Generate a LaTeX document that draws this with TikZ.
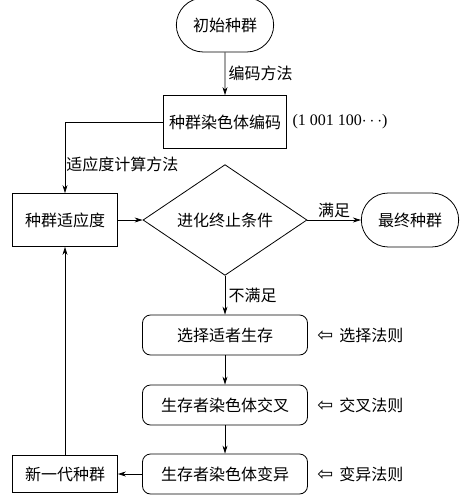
\documentclass[tikz,border=0pt]{standalone}
\usepackage{fontspec}
\setmainfont{Liberation Serif}
\newfontfamily\cjk{Noto Sans CJK SC}
\newfontfamily\symfont{DejaVu Sans}
\usetikzlibrary{shapes,arrows.meta,positioning}

\begin{document}
\begin{tikzpicture}[x=1pt,y=-1pt,font=\fontsize{16}{16}\selectfont\cjk,line width=0.8pt,>={Stealth[length=8pt,width=5pt]},
  term/.style={draw, rounded rectangle, minimum width=104pt, minimum height=54pt},
  plainbox/.style={draw, minimum width=105pt, minimum height=53pt},
  stepbox/.style={draw, rounded corners=8pt, minimum width=165pt, minimum height=40pt},
  cond/.style={draw, diamond, inner sep=0pt, minimum width=164pt, minimum height=86pt},
  rule/.style={inner sep=0pt}]
\useasboundingbox (0,0) rectangle (474,495);
\node[term] (start) at (225,25) {初始种群};
\node[plainbox, minimum width=123pt, inner sep=2pt] (encode) at (225,122) {种群染色体编码};
\node[right=2pt of encode, font=\fontsize{16}{16}\selectfont\rmfamily] (code) {(1 001 100$\cdots$)};
\node[plainbox] (fitness) at (65,220) {种群适应度};
\node[cond] (check) at (225,220) {进化终止条件};
\node[term] (final) at (410,220) {最终种群};
\node[stepbox] (select) at (225,335) {选择适者生存};
\node[stepbox] (cross) at (225,405) {生存者染色体交叉};
\node[stepbox] (mutate) at (225,474) {生存者染色体变异};
\node[plainbox, minimum height=37pt] (newgen) at (65,474) {新一代种群};
% rules on the right
\node[rule, right=9pt of select] (selrule) {{\symfont\fontsize{19}{19}\selectfont ⇦}\, 选择法则};
\node[rule, right=9pt of cross] (crossrule) {{\symfont\fontsize{19}{19}\selectfont ⇦}\, 交叉法则};
\node[rule, right=9pt of mutate] (mutrule) {{\symfont\fontsize{19}{19}\selectfont ⇦}\, 变异法则};
% connectors
\draw[->] (start) -- node[right] {编码方法} (encode);
\draw[->] (encode.west) -| node[pos=0.8, right, inner sep=1pt] {适应度计算方法} (fitness.north);
\draw[->] (fitness) -- (check);
\draw[->] (check) -- node[above, inner sep=2pt] {满足} (final);
\draw[->] (check) -- node[right] {不满足} (select);
\draw[->] (select) -- (cross);
\draw[->] (cross) -- (mutate);
\draw[->] (mutate) -- (newgen);
\draw[->] (newgen) -- (fitness);
\end{tikzpicture}
\end{document}
